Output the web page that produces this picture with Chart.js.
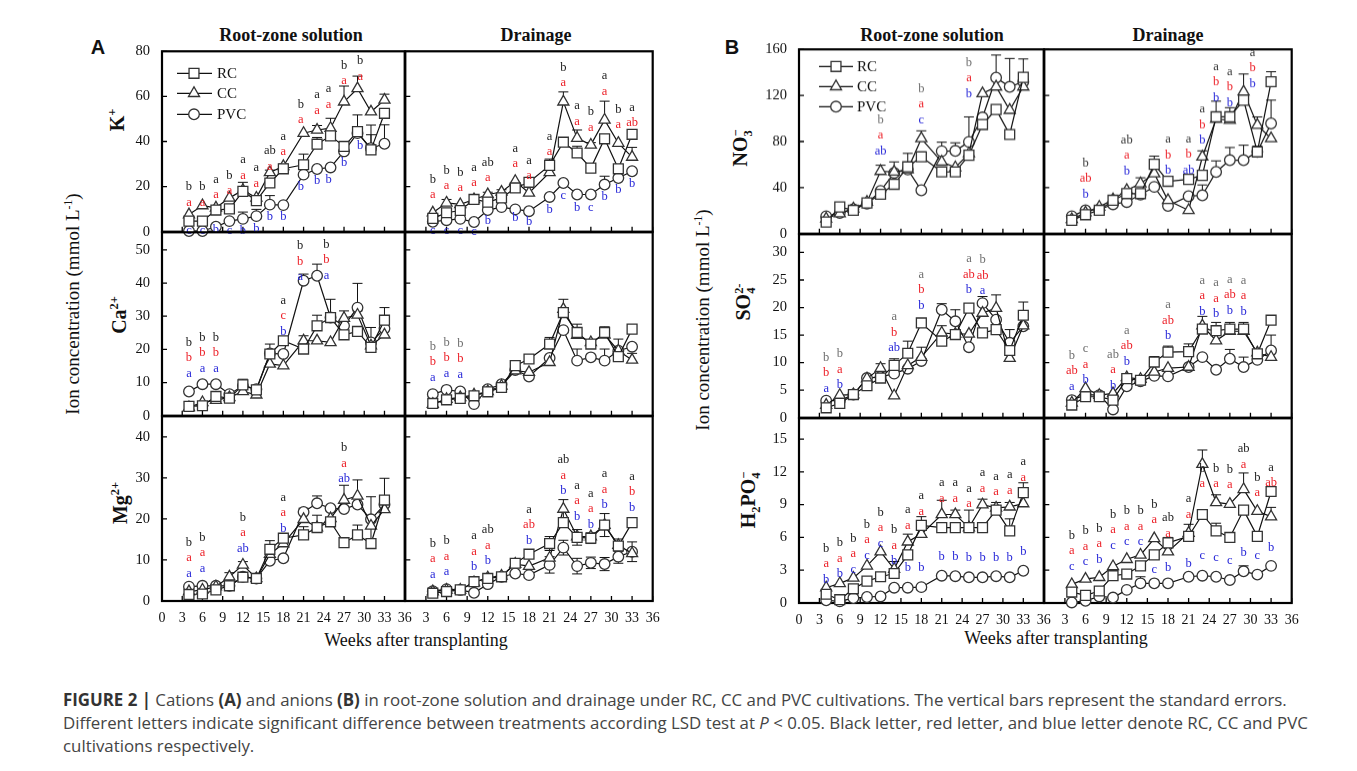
<!DOCTYPE html>
<html>
<head>
<meta charset="utf-8">
<title>Figure 2</title>
<script src="https://cdn.jsdelivr.net/npm/chart.js@4.4.1/dist/chart.umd.min.js"></script>
<style>
  html, body { margin: 0; padding: 0; background: #fff; }
  body { width: 1357px; height: 771px; position: relative; overflow: hidden; font-family: "Liberation Serif", "Times New Roman", serif; color: #111; }
  canvas { position: absolute; }
  .lbl { position: absolute; white-space: nowrap; transform: translate(-50%, -50%); }
  .rot { transform: translate(-50%, -50%) rotate(-90deg); }
  .ttl { font-weight: bold; font-size: 18px; }
  .ion { font-weight: bold; font-size: 20px; }
  .ylab { font-size: 19px; }
  .xlab { font-size: 18px; }
  .fig { font-family: "Liberation Sans", Arial, sans-serif; font-weight: bold; font-size: 20px; }
  sup, sub { font-size: 0.62em; line-height: 0; }
  .stk { display: inline-block; vertical-align: middle; font-size: 0.62em; line-height: 1.0; text-align: left; }
  #cap { position: absolute; left: 63px; top: 688px; font-family: "Open Sans", sans-serif; font-size: 16.85px; line-height: 23px; color: #444; white-space: nowrap; }
  #cap b { color: #333; }
</style>
</head>
<body>
<div class="lbl fig" style="left:98px;top:47px">A</div>
<div class="lbl fig" style="left:732px;top:47px">B</div>
<div class="lbl ttl" style="left:291px;top:35px">Root-zone solution</div>
<div class="lbl ttl" style="left:536px;top:35px">Drainage</div>
<div class="lbl ttl" style="left:932px;top:35px">Root-zone solution</div>
<div class="lbl ttl" style="left:1168px;top:35px">Drainage</div>
<div class="lbl rot ion" style="left:117px;top:120px">K<sup>+</sup></div>
<div class="lbl rot ion" style="left:119px;top:315px">Ca<sup>2+</sup></div>
<div class="lbl rot ion" style="left:120px;top:503px">Mg<sup>2+</sup></div>
<div class="lbl rot ylab" style="left:73px;top:304px">Ion concentration (mmol L<sup>-1</sup>)</div>
<div class="lbl rot ion" style="left:742px;top:148px">NO<span class="stk">&minus;<br>3</span></div>
<div class="lbl rot ion" style="left:745px;top:302px">SO<span class="stk">2-<br>4</span></div>
<div class="lbl rot ion" style="left:750px;top:500px">H<sub>2</sub>PO<span class="stk">&minus;<br>4</span></div>
<div class="lbl rot ylab" style="left:703px;top:320px">Ion concentration (mmol L<sup>-1</sup>)</div>
<div class="lbl xlab" style="left:416px;top:640px">Weeks after transplanting</div>
<div class="lbl xlab" style="left:1056px;top:638px">Weeks after transplanting</div>
<div id="cap"><b>FIGURE 2 |</b> Cations <b>(A)</b> and anions <b>(B)</b> in root-zone solution and drainage under RC, CC and PVC cultivations. The vertical bars represent the standard errors.<br>Different letters indicate significant difference between treatments according LSD test at <i>P</i> &lt; 0.05. Black letter, red letter, and blue letter denote RC, CC and PVC<br>cultivations respectively.</div>

<script>
// semaines de prélèvement (communes à tous les panneaux)
const weeks = [4, 6, 8, 10, 12, 14, 16, 18, 21, 23, 25, 27, 29, 31, 33];
const xTicksL = [0, 3, 6, 9, 12, 15, 18, 21, 24, 27, 30, 33, 36];
const xTicksR = [3, 6, 9, 12, 15, 18, 21, 24, 27, 30, 33, 36];

const kTicks = [0, 20, 40, 60, 80];
const caTicks = [0, 10, 20, 30, 40, 50];
const mgTicks = [0, 10, 20, 30, 40];
const no3Ticks = [0, 40, 80, 120, 160];
const so4Ticks = [0, 5, 10, 15, 20, 25, 30];
const h2Ticks = [0, 3, 6, 9, 12, 15];

// K+
const kRootRC  = [4.7, 4.7, 9.6, 10.1, 17.9, 13.8, 21.6, 27.9, 29.7, 38.8, 42.5, 37.8, 44.4, 36.3, 52.5];
const kRootCC  = [7.6, 11.6, 10.6, 15, 18.4, 15, 26.3, 29, 43.7, 45.1, 45.9, 57.6, 63.5, 53.2, 58.4];
const kRootPVC = [0.3, 0.3, 2.2, 4.7, 5.7, 6.9, 12, 11.8, 25.3, 27.8, 28.5, 35.6, 43.7, 37, 39];
const kRootRCe  = [0, 0, 0, 0, 4, 0, 0, 0, 4.7, 3, 0, 1.5, 7.4, 11, 0];
const kRootCCe  = [0, 0, 0, 0, 0, 0, 1, 1, 0, 2, 4.4, 7, 5.5, 0, 2.6];
const kRootPVCe = [0, 0, 0, 0, 3, 3, 4, 0, 0, 0, 0, 0, 0, 6, 8.4];
const kDrRC  = [5.9, 8.4, 9.4, 14.3, 13.1, 15, 19.4, 21.9, 29.4, 39.7, 34.9, 28.2, 41.2, 27.9, 43.2];
const kDrCC  = [8.4, 12.8, 12.1, 14.3, 16.5, 17.6, 22.4, 17.2, 26.3, 57.6, 41.5, 38.5, 49.6, 39.3, 33.1];
const kDrPVC = [4.4, 5.1, 5.7, 4.3, 9.6, 10.9, 9.9, 9.1, 15.4, 21.6, 16.5, 16.5, 20.9, 23.8, 26.8];
const kDrRCe  = [0, 0, 0, 0, 0, 0, 0, 0, 2.8, 0, 3, 0, 0, 0, 2];
const kDrCCe  = [0, 1.5, 0, 0, 1, 1, 0, 0, 0, 4.4, 3.6, 1, 8.3, 0, 4.3];
const kDrPVCe = [0, 0, 0, 0, 0, 0, 0, 0, 0, 0, 0, 0, 3.7, 0, 0];

// Ca2+
const caRootRC  = [2.8, 3.0, 5.8, 5.3, 9.3, 7.8, 18.6, 22.6, 20.1, 27.1, 29.6, 24.4, 25.4, 20.6, 28.8];
const caRootCC  = [2.5, 4.0, 4.7, 5.5, 7.3, 6.3, 15.6, 15.1, 22.6, 22.6, 22.1, 29.4, 30.4, 21.1, 24.4];
const caRootPVC = [7.3, 9.5, 9.5, 6.5, 9.0, 8.0, 18.8, 18.6, 40.7, 42.2, 29.6, 27.1, 32.6, 22.1, 26.3];
const caRootRCe  = [0, 0, 0, 0, 1.7, 0, 3, 0, 0, 3.2, 5.5, 0, 0, 6, 3.8];
const caRootCCe  = [0, 0, 0, 0, 0, 0, 0, 0, 1.5, 0, 0, 2.2, 1.2, 0, 0];
const caRootPVCe = [0, 0, 0, 0, 0, 0, 0, 0, 2, 3.5, 0, 0, 7.3, 0, 0];
const caDrRC  = [3.7, 4.8, 5.2, 6.0, 7.2, 8.5, 15.1, 17.1, 21.6, 31.1, 25.1, 21.6, 25.1, 17.8, 26.1];
const caDrCC  = [3.5, 5.0, 5.5, 6.3, 7.3, 9.0, 13.6, 13.1, 16.1, 32.1, 24.3, 22.1, 24.4, 19.6, 16.8];
const caDrPVC = [6.5, 7.8, 7.3, 3.5, 8.0, 9.5, 13.8, 11.8, 17.4, 25.8, 16.6, 17.6, 16.6, 19.6, 20.8];
const caDrRCe  = [0, 0, 0, 0, 0, 0, 1.5, 0, 2, 0, 2.5, 0, 1.7, 0, 0];
const caDrCCe  = [0, 0, 0, 0, 0, 0, 0, 0, 0, 3, 0, 0, 0, 0, 2];
const caDrPVCe = [0, 0, 0, 0, 0, 0, 0, 0, 0, 0, 3.5, 0, 3.5, 3.5, 0];

// Mg2+
const mgRootRC  = [1.6, 1.7, 2.7, 3.7, 5.8, 5.5, 12.6, 15.3, 16.1, 17.9, 19.3, 14.2, 16.1, 14.0, 24.6];
const mgRootCC  = [2.3, 2.7, 3.5, 5.9, 8.8, 5.5, 11.4, 14.0, 19.9, 17.9, 20.1, 24.6, 25.6, 18.3, 22.3];
const mgRootPVC = [3.5, 3.7, 3.7, 3.7, 5.9, 5.5, 9.8, 10.4, 21.7, 23.8, 22.6, 22.4, 23.5, 19.9, 23.5];
const mgRootRCe  = [0, 0, 0, 0, 0, 0, 2.1, 0, 2, 3, 0, 0, 2.4, 11.4, 5.3];
const mgRootCCe  = [0, 0, 0, 1, 0.8, 0, 0, 0, 0, 0, 2.9, 3.6, 3.9, 0, 0];
const mgRootPVCe = [0, 0, 0, 0, 0, 0, 0, 0, 0.9, 1.8, 0, 0, 0, 0, 0];
const mgDrRC  = [1.9, 2.3, 2.7, 4.7, 5.5, 5.9, 9.2, 11.4, 14.0, 19.1, 15.5, 15.3, 18.5, 13.4, 19.1];
const mgDrCC  = [2.3, 2.7, 2.7, 4.5, 5.7, 6.1, 9.0, 8.5, 10.5, 22.4, 15.7, 15.7, 18.5, 13.6, 11.6];
const mgDrPVC = [2.4, 2.9, 2.7, 2.0, 4.1, 5.9, 6.7, 6.3, 8.8, 13.0, 8.5, 9.3, 9.0, 10.8, 12.0];
const mgDrRCe  = [0, 0, 0, 0, 0, 0, 0, 0, 1.7, 0, 1.9, 1.3, 0, 0, 0.8];
const mgDrCCe  = [0, 0, 0, 0, 0, 0, 0, 0, 0, 2.3, 0, 0, 2.8, 1.5, 0];
const mgDrPVCe = [0, 0, 0, 0, 0, 0, 0, 0, 2, 1.8, 1.9, 1.4, 1.6, 1.6, 2.4];

// NO3-
const no3RootRC  = [10.1, 23.2, 20.3, 26.7, 34.2, 42.9, 58, 66.7, 53.6, 53.6, 68.1, 94.8, 107.8, 86.1, 135.7];
const no3RootCC  = [13, 17.4, 21.7, 27.5, 54.2, 53.6, 55.7, 82.6, 62.3, 57.4, 69.6, 121.7, 127.5, 107.2, 127.5];
const no3RootPVC = [15.1, 18, 21.2, 26.1, 37.1, 52.8, 55.7, 37.7, 71.6, 71.9, 79.7, 100.9, 135.4, 127.5, 131.9];
const no3RootRCe  = [0, 0, 0, 0, 0, 0, 0, 4.3, 0, 0, 0, 0, 0, 0, 16];
const no3RootCCe  = [0, 0, 0, 0, 5.2, 8.7, 0, 6.7, 0, 0, 0, 0, 0, 0, 0];
const no3RootPVCe = [0, 0, 0, 0, 0, 0, 14, 0, 7.8, 7, 21.7, 0, 19.7, 24.6, 0];
const no3DrRC  = [11.6, 16.5, 20.3, 29, 34.8, 34.8, 60.3, 45.5, 47.2, 50.7, 101.4, 101.4, 115.9, 71, 131.9];
const no3DrCC  = [12.5, 18.3, 23.2, 29.6, 37.7, 43.5, 52.2, 29, 20.3, 66.7, 99.4, 98.6, 123.2, 94.2, 82.6];
const no3DrPVC = [15.1, 20.3, 20.9, 25.5, 27.5, 33.9, 40.6, 24.1, 32.5, 33.3, 53.6, 63.8, 63.8, 71, 95.7];
const no3DrRCe  = [0, 0, 0, 0, 0, 0, 7, 0, 0, 0, 13.6, 8, 0, 5, 8.7];
const no3DrCCe  = [0, 0, 0, 0, 0, 5, 0, 0, 0, 5.2, 0, 0, 15.4, 7.2, 0];
const no3DrPVCe = [0, 0, 0, 0, 0, 0, 0, 0, 0, 9, 9.6, 11, 13, 0, 20.2];

// SO4 2-
const so4RootRC  = [1.8, 2.6, 4.2, 5.8, 7.2, 9.5, 11.7, 17.2, 13.9, 15.1, 19.9, 15.4, 16, 12.2, 18.6];
const so4RootCC  = [2.3, 4.1, 4.2, 7.1, 9.0, 4.0, 9.5, 11.0, 15.4, 15.2, 15.2, 19.0, 19.9, 10.8, 16.7];
const so4RootPVC = [3.1, 3.1, 4.2, 7.2, 7.4, 8.0, 8.9, 10.3, 19.6, 17.5, 12.8, 20.8, 17.8, 13.6, 16.6];
const so4RootRCe  = [0, 0, 0, 0, 0, 1.2, 2.2, 0, 0, 0, 0, 0, 0, 0, 2.4];
const so4RootCCe  = [0, 0, 0, 0, 0.8, 0, 0, 1.8, 1.3, 0, 0, 0, 2.4, 0, 0];
const so4RootPVCe = [0, 0, 0, 0, 0, 0, 0, 0, 1.1, 2.1, 0, 1.2, 0, 2.4, 0];
const so4DrRC  = [2.3, 3.8, 3.8, 3.2, 7.1, 6.8, 10.1, 11.9, 12, 16.1, 15.8, 16.1, 16.1, 11.6, 17.7];
const so4DrCC  = [2.7, 5.3, 4.1, 4.4, 7.3, 7.0, 8.3, 9.0, 9.2, 16.7, 14.0, 15.7, 15.7, 11.8, 11.0];
const so4DrPVC = [3.2, 4.2, 4.1, 1.5, 5.7, 6.6, 7.6, 7.5, 9.2, 11.0, 8.7, 10.7, 9.2, 10.5, 12.2];
const so4DrRCe  = [0, 0, 0, 0, 0, 0, 1, 1.1, 1.4, 0, 1.5, 1.2, 1.2, 0, 0];
const so4DrCCe  = [0, 0, 0, 0, 0, 0, 0, 0, 0, 1.7, 0, 0, 0, 0, 0];
const so4DrPVCe = [0, 0, 0, 0, 0, 0, 0, 0, 0, 0, 0, 1.7, 1.8, 0, 2.8];

// H2PO4-
const h2RootRC  = [0.8, 0.3, 1.3, 2.0, 2.4, 2.7, 4.4, 7.1, 6.9, 6.9, 6.9, 6.9, 8.5, 6.6, 10.1];
const h2RootCC  = [1.4, 1.8, 2.3, 3.4, 4.7, 3.1, 5.6, 6.3, 8.1, 8.1, 6.9, 9.0, 8.7, 8.8, 9.1];
const h2RootPVC = [0.25, 0.15, 0.45, 0.55, 0.6, 1.4, 1.4, 1.45, 2.5, 2.45, 2.35, 2.35, 2.45, 2.35, 2.95];
const h2RootRCe  = [0, 0, 0, 0, 0, 1.1, 0, 0.8, 0, 0, 1.6, 0, 0, 1.1, 0.9];
const h2RootCCe  = [0, 0, 0, 0, 0, 0, 0.7, 0, 1.3, 0.4, 0, 0.5, 0.5, 0.4, 0];
const h2RootPVCe = [0, 0, 0, 0, 0, 0, 0, 0, 0, 0, 0, 0, 0, 0, 0];
const h2DrRC  = [1.0, 0.7, 1.1, 2.5, 2.65, 3.4, 4.4, 5.5, 6.1, 8.1, 6.6, 6.0, 8.5, 6.1, 10.2];
const h2DrCC  = [1.7, 2.2, 2.35, 3.35, 4.0, 4.4, 5.9, 4.7, 6.4, 12.7, 9.2, 9.05, 10.4, 8.4, 7.9];
const h2DrPVC = [0.05, 0.2, 0.6, 0.5, 1.2, 1.8, 1.8, 1.8, 2.4, 2.5, 2.4, 2.1, 2.9, 2.6, 3.4];
const h2DrRCe  = [0, 0, 0, 0, 0, 0, 0, 0.5, 0, 0, 0.7, 0, 0, 0, 0.4];
const h2DrCCe  = [0, 0, 0, 0, 0, 0, 0, 0, 0.8, 1.3, 0.7, 0, 1.5, 0, 0.85];
const h2DrPVCe = [0, 0, 0, 0, 0, 0.6, 0, 0, 0, 0, 0, 0, 0.5, 0, 0];

// lettres LSD : [semaine, y de la 1re lettre, RC, CC, PVC, y PVC si à part]
const kRootSig = [[4, 19.9, 'b', 'a', 'c', 0.3], [6, 19.9, 'b', 'a', 'c', 0.3], [8, 23.1, 'a', 'a', 'b', 0.8], [10, 25, 'b', 'a', 'c', 0.3], [12, 31.9, 'a', 'a', 'b', 0.3], [14, 28.2, 'a', 'a', 'b', 1.5], [16, 35.9, 'ab', 'a', 'b', 6.6], [18, 42.2, 'a', 'a', 'b', 6.6], [20.6, 56.5, 'b', 'a', 'b', 20.1], [23, 60.6, 'a', 'a', 'b', 22.5], [24.7, 63.2, 'a', 'a', 'b', 23.2], [27, 73.8, 'b', 'a', 'b', 30.4], [29.4, 75.7, 'b', 'a', 'b', 38.1]];
const kDrSig = [[4, 23.1, 'b', 'a', 'c', 0.3], [6, 27.2, 'b', 'a', 'c', 0.3], [8, 26.3, 'b', 'a', 'c', 0.3], [10, 28.5, 'a', 'a', 'c', 0], [12, 30.7, 'ab', 'a', 'b', 4.7], [16, 36.8, 'a', 'a', 'b', 6.2], [18, 31.5, 'a', 'a', 'b', 4.3], [21, 42.2, 'a', 'a', 'b', 9.6], [23, 72.8, 'b', 'a', 'c', 16], [25, 55.7, 'a', 'a', 'b', 10.6], [27, 53.2, 'b', 'a', 'c', 10.6], [29, 69, 'a', 'a', 'b', 15.4], [31, 54.3, 'b', 'a', 'b', 18.4], [33, 55.1, 'a', 'ab', 'b', 21.2]];
const caRootSig = [[4, 22.1, 'b', 'b', 'a'], [6, 23.6, 'b', 'b', 'a'], [8, 23.6, 'b', 'b', 'a'], [18, 34.8, 'a', 'c', 'b'], [20.5, 51.2, 'b', 'b', 'a'], [24.4, 51.7, 'b', 'b', 'a']];
const caDrSig = [[4, 20.8, 'b', 'b', 'a'], [6, 22.1, 'b', 'b', 'a'], [8, 21.8, 'b', 'b', 'a']];
const mgRootSig = [[4, 14.2, 'b', 'a', 'a'], [6, 15.5, 'b', 'a', 'a'], [12, 20.4, 'b', 'a', 'ab'], [18, 25.2, 'a', 'a', 'b'], [27, 37.3, 'b', 'a', 'ab']];
const mgDrSig = [[4, 14.0, 'b', 'a', 'a'], [6, 14.6, 'b', 'a', 'a'], [10, 15.8, 'a', 'a', 'b'], [12, 17.3, 'ab', 'a', 'b'], [18, 22.3, 'a', 'ab', 'b'], [23, 34.3, 'ab', 'a', 'b'], [25, 28.2, 'a', 'a', 'b'], [27, 26.2, 'a', 'a', 'b'], [29, 30.9, 'a', 'a', 'b'], [33, 30.3, 'a', 'b', 'b']];
const no3RootSig = [[12, 98.6, 'b', 'a', 'ab'], [18, 126, 'b', 'a', 'c'], [25, 148.4, 'b', 'a', 'b']];
const no3DrSig = [[6, 61.4, 'b', 'ab', 'b'], [12, 81.2, 'ab', 'a', 'b'], [18, 81.7, 'a', 'b', 'b'], [21, 82, 'a', 'b', 'ab'], [23, 107.8, 'a', 'b', 'b'], [25, 144.9, 'a', 'b', 'b'], [27, 140.6, 'a', 'b', 'b'], [30.3, 157.4, 'a', 'b', 'b']];
const so4RootSig = [[4, 10.9, 'b', 'b', 'a'], [6, 11.6, 'b', 'a', 'b'], [14, 18.3, 'a', 'b', 'ab'], [18, 26.0, 'a', 'b', 'b'], [25, 28.8, 'a', 'ab', 'b'], [27, 28.6, 'b', 'ab', 'a']];
const so4DrSig = [[4, 11.3, 'b', 'ab', 'a'], [6, 12.5, 'c', 'a', 'b'], [10, 11.5, 'ab', 'a', 'b'], [12, 15.8, 'a', 'ab', 'b'], [18, 20.5, 'a', 'ab', 'b'], [23, 24.9, 'a', 'a', 'b'], [25, 24.5, 'a', 'a', 'b'], [27, 25.1, 'a', 'ab', 'b'], [29, 24.9, 'a', 'a', 'b']];
const h2RootSig = [[4, 5.0, 'b', 'a', 'b'], [6, 5.5, 'b', 'a', 'b'], [8, 5.9, 'b', 'a', 'c'], [10, 7.2, 'b', 'a', 'c'], [12, 8.3, 'b', 'a', 'c'], [14, 6.7, 'b', 'a', 'b'], [16, 8.5, 'a', 'a', 'b', 3.2], [18, 9.8, 'a', 'a', 'b', 3.2], [21, 11.0, 'a', 'a', 'b', 4.2], [23, 11.0, 'a', 'a', 'b', 4.2], [25, 10.5, 'a', 'a', 'b', 4.1], [27, 11.9, 'a', 'a', 'b', 4.1], [29, 11.6, 'a', 'a', 'b', 4.1], [31, 11.7, 'a', 'a', 'b', 4.1], [33, 12.9, 'a', 'a', 'b', 4.7]];
const h2DrSig = [[4, 6.2, 'b', 'a', 'c'], [6, 6.6, 'b', 'a', 'c'], [8, 6.8, 'b', 'a', 'b'], [10, 8.1, 'b', 'a', 'c'], [12, 8.4, 'b', 'a', 'c'], [14, 8.4, 'b', 'a', 'c'], [16, 9.0, 'b', 'a', 'c', 3.0], [18, 7.8, 'ab', 'a', 'b', 3.2], [21, 9.5, 'a', 'a', 'b', 3.6], [23, 12.3, 'b', 'a', 'c', 4.3], [25, 12.3, 'b', 'a', 'c', 4.1], [27, 12.2, 'b', 'a', 'c', 3.9], [29, 14.1, 'ab', 'a', 'b', 4.6], [31, 11.5, 'b', 'a', 'c', 4.3], [33, 12.4, 'a', 'ab', 'b', 5.1]];

const RED = '#ec1c24', BLUE = '#2626d8', DARK = '#1a1a1a', GREY = '#6e6e6e';

// cadres des panneaux (px page) : gauche, haut, droite, bas
const panels = [
  { box: [162, 51, 405, 232], yMax: 80, yTicks: kTicks, col: 'L', s: [kRootRC, kRootCC, kRootPVC], e: [kRootRCe, kRootCCe, kRootPVCe], sig: kRootSig, ink: DARK,
    legend: { x0: 15, x1: 50, mx: 32, tx: 55, rows: [22, 42, 63] } },
  { box: [405, 51, 653, 232], yMax: 80, yTicks: kTicks, col: 'R', s: [kDrRC, kDrCC, kDrPVC], e: [kDrRCe, kDrCCe, kDrPVCe], sig: kDrSig, ink: DARK },
  { box: [162, 232, 405, 416], yMax: 55.3, yTicks: caTicks, col: 'L', s: [caRootRC, caRootCC, caRootPVC], e: [caRootRCe, caRootCCe, caRootPVCe], sig: caRootSig, ink: DARK },
  { box: [405, 232, 653, 416], yMax: 55.3, yTicks: caTicks, col: 'R', s: [caDrRC, caDrCC, caDrPVC], e: [caDrRCe, caDrCCe, caDrPVCe], sig: caDrSig, ink: GREY },
  { box: [162, 416, 405, 601], yMax: 45, yTicks: mgTicks, col: 'L', bottom: true, s: [mgRootRC, mgRootCC, mgRootPVC], e: [mgRootRCe, mgRootCCe, mgRootPVCe], sig: mgRootSig, ink: DARK },
  { box: [405, 416, 653, 601], yMax: 45, yTicks: mgTicks, col: 'R', bottom: true, both: true, s: [mgDrRC, mgDrCC, mgDrPVC], e: [mgDrRCe, mgDrCCe, mgDrPVCe], sig: mgDrSig, ink: DARK },
  { box: [799, 49, 1044, 233.5], yMax: 160, yTicks: no3Ticks, col: 'L', s: [no3RootRC, no3RootCC, no3RootPVC], e: [no3RootRCe, no3RootCCe, no3RootPVCe], sig: no3RootSig, ink: GREY,
    legend: { x0: 20, x1: 54, mx: 37, tx: 58, rows: [17, 37, 57] } },
  { box: [1044, 49, 1292, 233.5], yMax: 160, yTicks: no3Ticks, col: 'R', s: [no3DrRC, no3DrCC, no3DrPVC], e: [no3DrRCe, no3DrCCe, no3DrPVCe], sig: no3DrSig, ink: '#333' },
  { box: [799, 233.5, 1044, 418], yMax: 33.3, yTicks: so4Ticks, col: 'L', s: [so4RootRC, so4RootCC, so4RootPVC], e: [so4RootRCe, so4RootCCe, so4RootPVCe], sig: so4RootSig, ink: GREY },
  { box: [1044, 233.5, 1292, 418], yMax: 33.3, yTicks: so4Ticks, col: 'R', s: [so4DrRC, so4DrCC, so4DrPVC], e: [so4DrRCe, so4DrCCe, so4DrPVCe], sig: so4DrSig, ink: GREY },
  { box: [799, 418, 1044, 603], yMax: 16.9, yTicks: h2Ticks, col: 'L', bottom: true, s: [h2RootRC, h2RootCC, h2RootPVC], e: [h2RootRCe, h2RootCCe, h2RootPVCe], sig: h2RootSig, ink: DARK },
  { box: [1044, 418, 1292, 603], yMax: 16.9, yTicks: h2Ticks, col: 'R', bottom: true, s: [h2DrRC, h2DrCC, h2DrPVC], e: [h2DrRCe, h2DrCCe, h2DrPVCe], sig: h2DrSig, ink: DARK }
];

const series = [
  { label: 'RC', style: 'rect', r: 7 },
  { label: 'CC', style: 'triangle', r: 6.4 },
  { label: 'PVC', style: 'circle', r: 5.3 }
];

Chart.defaults.font.family = "'Liberation Serif', 'Times New Roman', serif";
Chart.defaults.font.size = 14;
Chart.defaults.color = '#111';

function drawMark(ctx, style, x, y, r) {
  ctx.beginPath();
  if (style === 'rect') {
    const s = r * Math.SQRT1_2;
    ctx.rect(x - s, y - s, 2 * s, 2 * s);
  } else if (style === 'triangle') {
    ctx.moveTo(x, y - r);
    ctx.lineTo(x + r * 0.866, y + r * 0.5);
    ctx.lineTo(x - r * 0.866, y + r * 0.5);
    ctx.closePath();
  } else {
    ctx.arc(x, y, r, 0, Math.PI * 2);
  }
  ctx.fillStyle = '#fff'; ctx.fill();
  ctx.strokeStyle = '#333'; ctx.lineWidth = 1.3; ctx.stroke();
}

// cadre + graduations vers l'intérieur
const framePlugin = {
  id: 'frame',
  beforeDatasetsDraw(chart) {
    const { ctx, chartArea: a, scales: { x, y } } = chart;
    ctx.save();
    ctx.strokeStyle = '#000';
    ctx.lineWidth = 1.3;
    ctx.beginPath();
    x.ticks.forEach(t => { const px = x.getPixelForValue(t.value); ctx.moveTo(px, a.bottom); ctx.lineTo(px, a.bottom - 5); });
    y.ticks.forEach(t => { const py = y.getPixelForValue(t.value); ctx.moveTo(a.left, py); ctx.lineTo(a.left + 5, py); });
    ctx.stroke();
    ctx.lineWidth = 2.2;
    ctx.strokeRect(a.left, a.top, a.right - a.left, a.bottom - a.top);
    ctx.restore();
  }
};

// barres d'erreur (écart-type), dessinées sous les marqueurs
const errPlugin = {
  id: 'errbars',
  beforeDatasetsDraw(chart, args, opts) {
    const { ctx, scales: { x, y } } = chart;
    ctx.save();
    ctx.strokeStyle = '#111';
    ctx.lineWidth = 1;
    chart.data.datasets.forEach(ds => {
      ds.data.forEach(p => {
        if (!p.e) return;
        const px = x.getPixelForValue(p.x);
        const y0 = y.getPixelForValue(p.y), y1 = y.getPixelForValue(p.y + p.e);
        ctx.beginPath();
        ctx.moveTo(px, y0); ctx.lineTo(px, y1);
        ctx.moveTo(px - 5, y1); ctx.lineTo(px + 5, y1);
        if (opts.both) {
          const y2 = y.getPixelForValue(p.y - p.e);
          ctx.moveTo(px, y0); ctx.lineTo(px, y2);
          ctx.moveTo(px - 5, y2); ctx.lineTo(px + 5, y2);
        }
        ctx.stroke();
      });
    });
    ctx.restore();
  }
};

// lettres de signification
const sigPlugin = {
  id: 'sig',
  afterDatasetsDraw(chart, args, opts) {
    const { ctx, scales: { x, y } } = chart;
    ctx.save();
    ctx.font = "12.5px 'Liberation Serif', serif";
    ctx.textAlign = 'center';
    ctx.textBaseline = 'middle';
    const colors = [opts.ink, RED, BLUE];
    (opts.rows || []).forEach(g => {
      const px = x.getPixelForValue(g[0]);
      const top = y.getPixelForValue(g[1]);
      for (let i = 0; i < 3; i++) {
        let py = top + i * 15.5;
        if (i === 2 && g[5] !== undefined) py = y.getPixelForValue(g[5]);
        ctx.fillStyle = colors[i];
        ctx.fillText(g[2 + i], px, py);
      }
    });
    ctx.restore();
  }
};

const legendPlugin = {
  id: 'legendBox',
  afterDraw(chart, args, opts) {
    if (!opts.pos) return;
    const { ctx, chartArea: a } = chart;
    const L = opts.pos;
    ctx.save();
    ctx.font = "15px 'Liberation Serif', serif";
    ctx.textBaseline = 'middle';
    series.forEach((s, i) => {
      const yy = a.top + L.rows[i];
      ctx.beginPath();
      ctx.strokeStyle = '#111'; ctx.lineWidth = 1.2;
      ctx.moveTo(a.left + L.x0, yy); ctx.lineTo(a.left + L.x1, yy);
      ctx.stroke();
      drawMark(ctx, s.style, a.left + L.mx, yy, s.r);
      ctx.fillStyle = '#111';
      ctx.fillText(s.label, a.left + L.tx, yy + 1);
    });
    ctx.restore();
  }
};

function makePanel(p) {
  const ML = p.col === 'L' ? 46 : 8;
  const MB = p.bottom ? 32 : 8;
  const PAD = 8;
  const [l, t, r, b] = p.box;
  const w = r - l + ML + PAD, h = b - t + PAD + MB;
  const cv = document.createElement('canvas');
  cv.width = w; cv.height = h;
  cv.style.left = (l - ML) + 'px'; cv.style.top = (t - PAD) + 'px';
  cv.style.width = w + 'px'; cv.style.height = h + 'px';
  document.body.appendChild(cv);

  const datasets = series.map((s, k) => ({
    label: s.label,
    data: weeks.map((wk, i) => ({ x: wk, y: p.s[k][i], e: p.e[k][i] })),
    borderColor: '#111',
    borderWidth: 1.2,
    pointStyle: s.style,
    pointRadius: s.r,
    pointBackgroundColor: '#fff',
    pointBorderColor: '#333',
    pointBorderWidth: 1.3,
    clip: false,
    tension: 0
  }));

  new Chart(cv, {
    type: 'line',
    data: { datasets },
    options: {
      responsive: false,
      animation: false,
      events: [],
      layout: { padding: { top: PAD, right: PAD, left: 0, bottom: 0 } },
      scales: {
        x: {
          type: 'linear', min: 0, max: 36,
          afterBuildTicks: sc => { sc.ticks = (p.col === 'L' ? xTicksL : xTicksR).map(v => ({ value: v })); },
          afterFit: sc => { sc.height = MB; sc.paddingLeft = 0; sc.paddingRight = 0; },
          grid: { display: false, drawTicks: false },
          border: { display: false },
          ticks: { display: !!p.bottom, autoSkip: false, maxRotation: 0, padding: 9, font: { size: 14 } }
        },
        y: {
          type: 'linear', min: 0, max: p.yMax,
          afterBuildTicks: sc => { sc.ticks = p.yTicks.map(v => ({ value: v })); },
          afterFit: sc => { sc.width = ML; sc.paddingTop = 0; sc.paddingBottom = 0; },
          grid: { display: false, drawTicks: false },
          border: { display: false },
          ticks: { display: p.col === 'L', padding: 12, font: { size: 14.5 } }
        }
      },
      plugins: {
        legend: { display: false },
        tooltip: { enabled: false },
        errbars: { both: !!p.both },
        sig: { rows: p.sig, ink: p.ink },
        legendBox: { pos: p.legend || null }
      }
    },
    plugins: [framePlugin, errPlugin, sigPlugin, legendPlugin]
  });
}

panels.forEach(makePanel);
</script>
</body>
</html>
